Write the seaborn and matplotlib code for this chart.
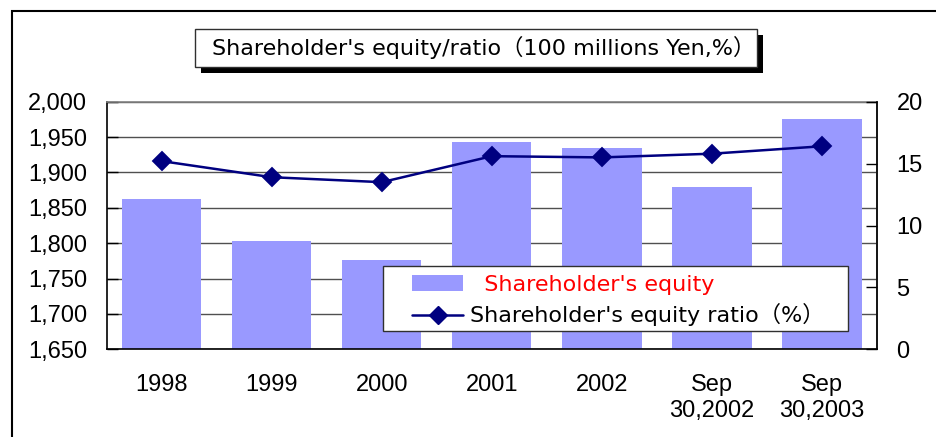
#!/usr/bin/env python3
"""
Shareholder's equity and equity ratio, bars plus line on a twin axis.
"""

import numpy as np
import pandas as pd
import matplotlib
matplotlib.use("Agg")
import matplotlib.pyplot as plt
import matplotlib.patches as mpatches
import seaborn as sns

# Data
periods = ["1998", "1999", "2000", "2001", "2002", "Sep\n30,2002", "Sep\n30,2003"]
equity = [1863, 1803, 1776, 1943, 1935, 1879, 1975]          # 100 millions Yen
equity_ratio = [15.2, 13.9, 13.5, 15.6, 15.5, 15.8, 16.4]    # %

left_ticks = [1650, 1700, 1750, 1800, 1850, 1900, 1950, 2000]
right_ticks = [0, 5, 10, 15, 20]

title_text = "Shareholder's equity/ratio（100 millions Yen,%）"
bar_label = "Shareholder's equity"
line_label = "Shareholder's equity ratio（%）"

BAR_COLOR = "#9999ff"
LINE_COLOR = "#000080"

sns.set_style("white")
plt.rcParams["font.family"] = ["Liberation Sans", "Noto Sans CJK JP", "DejaVu Sans"]
plt.rcParams["text.color"] = "black"
plt.rcParams["xtick.color"] = "black"
plt.rcParams["ytick.color"] = "black"
WIDE_FONT = ["DejaVu Sans", "Noto Sans CJK JP"]

W, H = 937, 437
fig = plt.figure(figsize=(W / 100, H / 100), dpi=100)

def px_rect(x0, y0, x1, y1):
    """Convert a pixel box (top-left origin) into figure fractions."""
    return [x0 / W, 1 - y1 / H, (x1 - x0) / W, (y1 - y0) / H]

def add_box(x0, y0, x1, y1, **kw):
    l, b, w, h = px_rect(x0, y0, x1, y1)
    fig.patches.append(mpatches.Rectangle((l, b), w, h, transform=fig.transFigure, **kw))

ax = fig.add_axes(px_rect(106.7, 101.7, 877, 349.3))

df = pd.DataFrame({"period": periods, "equity": equity, "ratio": equity_ratio})

sns.barplot(data=df, x="period", y="equity", color=BAR_COLOR, saturation=1,
            width=0.72, ax=ax, zorder=2)
for p in ax.patches:
    p.set_edgecolor("none")

ax.set_ylim(1650, 2000)
ax.set_yticks(left_ticks)
ax.set_yticklabels([f"{v:,}" for v in left_ticks])
ax.set_xlim(-0.5, len(periods) - 0.5)
ax.set_xlabel("")
ax.set_ylabel("")
ax.set_axisbelow(True)
ax.yaxis.grid(True, color="#505050", linewidth=1)
ax.xaxis.grid(False)

ax.tick_params(axis="y", direction="in", length=8, width=1, pad=14,
               labelsize=17, colors="black")
ax.tick_params(axis="x", which="major", length=0, pad=18, labelsize=17,
               labelcolor="black")
ax.set_xticks(np.arange(len(periods)) + 0.5, minor=True)
ax.tick_params(axis="x", which="minor", direction="in", length=7, width=1,
               color="#404040")

for side in ["left", "bottom"]:
    ax.spines[side].set_color("black")
    ax.spines[side].set_linewidth(1.2)
for side in ["top", "right"]:
    ax.spines[side].set_color("#808080")
    ax.spines[side].set_linewidth(1.2)

# Ratio line on the secondary axis
ax2 = ax.twinx()
sns.pointplot(data=df, x="period", y="ratio", color=LINE_COLOR, markers="D",
              linestyles="-", markersize=9, linewidth=1.8, ax=ax2)
ax2.set_ylim(0, 20)
ax2.set_yticks(right_ticks)
ax2.set_xlim(-0.5, len(periods) - 0.5)
ax2.set_ylabel("")
ax2.set_xlabel("")
ax2.tick_params(axis="y", direction="in", length=8, width=1, pad=14,
                labelsize=17, colors="black")
ax2.spines["right"].set_color("black")
ax2.spines["right"].set_linewidth(1.2)
for side in ["top", "left", "bottom"]:
    ax2.spines[side].set_visible(False)

# Legend: white box drawn separately, entries placed inside it
add_box(383, 266, 848, 331, facecolor="white", edgecolor="#303030",
        linewidth=1, zorder=5)
handles = [
    mpatches.Patch(facecolor=BAR_COLOR, edgecolor="none"),
    plt.Line2D([], [], color=LINE_COLOR, marker="D", markersize=9, linewidth=1.8),
]
leg = fig.legend(handles, ["  " + bar_label, line_label], loc="upper left",
                 bbox_to_anchor=(412 / W, 1 - 275 / H), borderaxespad=0,
                 borderpad=0, prop={"family": WIDE_FONT, "size": 16},
                 frameon=False, handlelength=2.3, handleheight=0.75,
                 labelspacing=0.38, handletextpad=0.3)
leg.set_zorder(6)
leg.get_texts()[0].set_color("red")
leg.get_texts()[1].set_color("black")

# Title box with a drop shadow
tx0, ty0, tx1, ty1 = 195, 29, 757, 67
add_box(tx0 + 6, ty0 + 6, tx1 + 6, ty1 + 6, facecolor="black",
        edgecolor="none", zorder=5)
add_box(tx0, ty0, tx1, ty1, facecolor="white", edgecolor="#303030",
        linewidth=1, zorder=6)
fig.text(484 / W, 1 - 47 / H, title_text, color="black",
         ha="center", va="center", family=WIDE_FONT, fontsize=16, zorder=7)

# Outer chart frame (cut off at the right and bottom of the picture)
fig.patches.append(mpatches.Rectangle(
    (12 / W, -0.1), 1.2, 1 - 11 / H + 0.1, transform=fig.transFigure,
    facecolor="none", edgecolor="black", linewidth=1.5, zorder=8))

fig.savefig("out.png", dpi=100)
plt.close(fig)
